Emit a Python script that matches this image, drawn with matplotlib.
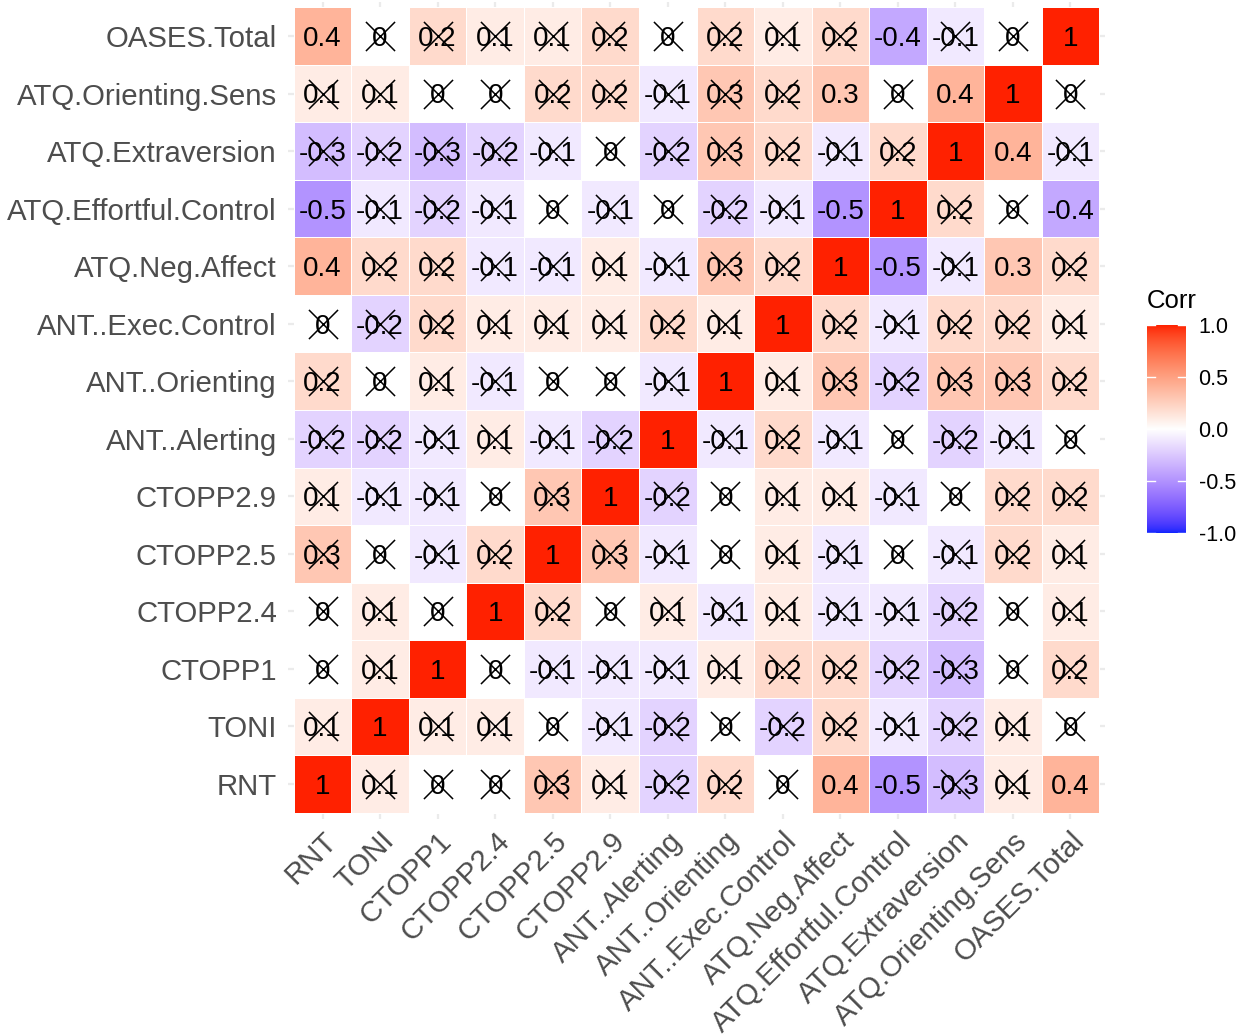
import numpy as np
import matplotlib
matplotlib.use("Agg")
import matplotlib.pyplot as plt
from matplotlib.colors import ListedColormap, Normalize

plt.rcParams['font.family'] = ['Liberation Sans', 'DejaVu Sans']

variables = ["RNT", "TONI", "CTOPP1", "CTOPP2.4", "CTOPP2.5", "CTOPP2.9",
             "ANT..Alerting", "ANT..Orienting", "ANT..Exec.Control",
             "ATQ.Neg.Affect", "ATQ.Effortful.Control", "ATQ.Extraversion",
             "ATQ.Orienting.Sens", "OASES.Total"]

# correlation matrix (rounded to one decimal), row i / column j follow `variables`
corr = [
    [1.0, 0.1, 0.0, 0.0, 0.3, 0.1, -0.2, 0.2, 0.0, 0.4, -0.5, -0.3, 0.1, 0.4],
    [0.1, 1.0, 0.1, 0.1, 0.0, -0.1, -0.2, 0.0, -0.2, 0.2, -0.1, -0.2, 0.1, 0.0],
    [0.0, 0.1, 1.0, 0.0, -0.1, -0.1, -0.1, 0.1, 0.2, 0.2, -0.2, -0.3, 0.0, 0.2],
    [0.0, 0.1, 0.0, 1.0, 0.2, 0.0, 0.1, -0.1, 0.1, -0.1, -0.1, -0.2, 0.0, 0.1],
    [0.3, 0.0, -0.1, 0.2, 1.0, 0.3, -0.1, 0.0, 0.1, -0.1, 0.0, -0.1, 0.2, 0.1],
    [0.1, -0.1, -0.1, 0.0, 0.3, 1.0, -0.2, 0.0, 0.1, 0.1, -0.1, 0.0, 0.2, 0.2],
    [-0.2, -0.2, -0.1, 0.1, -0.1, -0.2, 1.0, -0.1, 0.2, -0.1, 0.0, -0.2, -0.1, 0.0],
    [0.2, 0.0, 0.1, -0.1, 0.0, 0.0, -0.1, 1.0, 0.1, 0.3, -0.2, 0.3, 0.3, 0.2],
    [0.0, -0.2, 0.2, 0.1, 0.1, 0.1, 0.2, 0.1, 1.0, 0.2, -0.1, 0.2, 0.2, 0.1],
    [0.4, 0.2, 0.2, -0.1, -0.1, 0.1, -0.1, 0.3, 0.2, 1.0, -0.5, -0.1, 0.3, 0.2],
    [-0.5, -0.1, -0.2, -0.1, 0.0, -0.1, 0.0, -0.2, -0.1, -0.5, 1.0, 0.2, 0.0, -0.4],
    [-0.3, -0.2, -0.3, -0.2, -0.1, 0.0, -0.2, 0.3, 0.2, -0.1, 0.2, 1.0, 0.4, -0.1],
    [0.1, 0.1, 0.0, 0.0, 0.2, 0.2, -0.1, 0.3, 0.2, 0.3, 0.0, 0.4, 1.0, 0.0],
    [0.4, 0.0, 0.2, 0.1, 0.1, 0.2, 0.0, 0.2, 0.1, 0.2, -0.4, -0.1, 0.0, 1.0],
]

# significant off-diagonal pairs (all others are crossed out)
significant_pairs = [(0, 9), (0, 10), (0, 13), (9, 10), (9, 12), (10, 13), (11, 12)]


# ---- blue-white-red gradient interpolated in CIE Lab ----
def srgb_to_lab(rgb):
    rgb = np.asarray(rgb, float)
    lin = np.where(rgb <= 0.04045, rgb / 12.92, ((rgb + 0.055) / 1.055) ** 2.4)
    M = np.array([[0.4124564, 0.3575761, 0.1804375],
                  [0.2126729, 0.7151522, 0.0721750],
                  [0.0193339, 0.1191920, 0.9503041]])
    xyz = M @ lin
    white = np.array([0.95047, 1.0, 1.08883])
    t = xyz / white
    d = 6 / 29
    f = np.where(t > d ** 3, np.cbrt(t), t / (3 * d * d) + 4 / 29)
    return np.array([116 * f[1] - 16, 500 * (f[0] - f[1]), 200 * (f[1] - f[2])])


def lab_to_srgb(lab):
    L, a, b = lab
    fy = (L + 16) / 116
    fx = fy + a / 500
    fz = fy - b / 200
    d = 6 / 29
    def finv(f):
        return f ** 3 if f > d else 3 * d * d * (f - 4 / 29)
    white = np.array([0.95047, 1.0, 1.08883])
    xyz = white * np.array([finv(fx), finv(fy), finv(fz)])
    Minv = np.array([[3.2404542, -1.5371385, -0.4985314],
                     [-0.9692660, 1.8760108, 0.0415560],
                     [0.0556434, -0.2040259, 1.0572252]])
    lin = Minv @ xyz
    lin = np.clip(lin, 0, 1)
    rgb = np.where(lin <= 0.0031308, 12.92 * lin, 1.055 * lin ** (1 / 2.4) - 0.055)
    return np.clip(rgb, 0, 1)


lab_low = srgb_to_lab([0.05, 0.15, 1.0])
lab_mid = srgb_to_lab([1, 1, 1])
lab_high = srgb_to_lab([1.0, 0.13, 0.0])


def corr_colour(v):
    if v < 0:
        t = v + 1
        lab = lab_low * (1 - t) + lab_mid * t
    else:
        lab = lab_mid * (1 - v) + lab_high * v
    return lab_to_srgb(lab)


levels = np.linspace(-1, 1, 401)
cmap = ListedColormap([corr_colour(v) for v in levels])

# ---- figure ----
W, H = 1242, 1036
fig = plt.figure(figsize=(W / 100, H / 100), dpi=100)
fig.patch.set_facecolor("white")

px0, px1, py0, py1 = 288.0, 1105.0, 1.5, 818.5
ax = fig.add_axes([px0 / W, 1 - py1 / H, (px1 - px0) / W, (py1 - py0) / H])

n = len(variables)
C = np.array(corr)
ax.set_xlim(-0.6, n - 0.4)
ax.set_ylim(-0.6, n - 0.4)

for k in range(n):
    ax.axvline(k, color="#EBEBEB", lw=1.6, zorder=0)
    ax.axhline(k, color="#EBEBEB", lw=1.6, zorder=0)

edges = np.arange(n + 1) - 0.5
ax.pcolormesh(edges, edges, C, cmap=cmap, norm=Normalize(-1, 1),
              edgecolors="white", linewidth=0.6, zorder=1)

sig = np.eye(n, dtype=bool)
for i, j in significant_pairs:
    sig[i, j] = sig[j, i] = True

for i in range(n):
    for j in range(n):
        v = C[i, j]
        lab = f"{round(v, 1):g}"
        if lab == "-0":
            lab = "0"
        ax.text(j, i - 0.172, lab, ha="center", va="baseline", fontsize=20,
                color="black", zorder=3)

xs = [j for i in range(n) for j in range(n) if not sig[i, j]]
ys = [i for i in range(n) for j in range(n) if not sig[i, j]]
ax.scatter(xs, ys, marker="x", s=440, color="black", linewidths=1.1, zorder=4)

ax.set_xticks(range(n))
ax.set_yticks(range(n))
ax.set_xticklabels(variables, rotation=45, ha="right", va="top",
                   rotation_mode="anchor", fontsize=21.2, color="#4D4D4D")
ax.set_yticklabels(variables, fontsize=21.2, color="#4D4D4D")
ax.tick_params(axis="both", length=0)
ax.tick_params(axis="x", pad=6)
ax.tick_params(axis="y", pad=8)
for s in ax.spines.values():
    s.set_visible(False)

# ---- colour bar legend ----
cb_x0, cb_x1, cb_top, cb_bot = 1147.0, 1186.0, 325.0, 533.0
cax = fig.add_axes([cb_x0 / W, 1 - cb_bot / H, (cb_x1 - cb_x0) / W, (cb_bot - cb_top) / H])
grad = levels.reshape(-1, 1)
cax.imshow(grad, cmap=cmap, norm=Normalize(-1, 1), aspect="auto",
           origin="lower", extent=[0, 1, -1, 1])
cax.set_xlim(0, 1)
cax.set_ylim(-1, 1)
cax.set_xticks([])
cb_ticks = [-1.0, -0.5, 0.0, 0.5, 1.0]
cax.yaxis.tick_right()
cax.set_yticks(cb_ticks)
cax.set_yticklabels([f"{t:.1f}" for t in cb_ticks], fontsize=15.5, color="black")
cax.tick_params(axis="y", length=0, pad=9)
for t in cb_ticks:
    cax.plot([0, 0.2], [t, t], color="white", lw=1.0)
    cax.plot([0.8, 1], [t, t], color="white", lw=1.0)
for s in cax.spines.values():
    s.set_visible(False)
fig.text(cb_x0 / W, 1 - 301 / H, "Corr", fontsize=18.5, color="black",
         ha="left", va="center")

fig.savefig("out.png", dpi=100, facecolor="white")
